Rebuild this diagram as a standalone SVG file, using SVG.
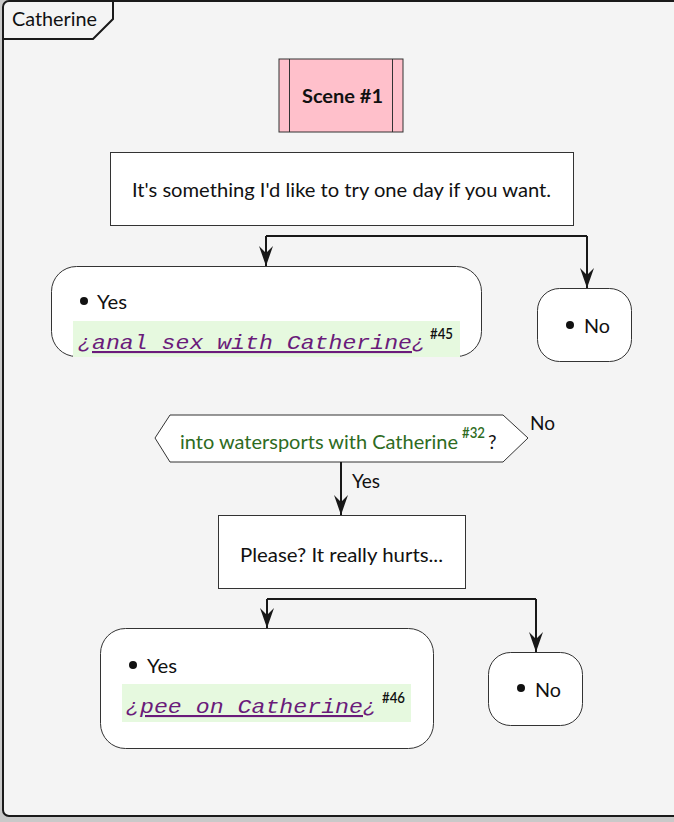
<svg xmlns="http://www.w3.org/2000/svg" width="674" height="822" viewBox="0 0 674 822">
<style>
.t{font-family:Lato,"Open Sans",sans-serif;font-size:19px;fill:#111}
.box{fill:#fff;stroke:#333;stroke-width:1}
.mono{font-family:"Liberation Mono",monospace;font-style:italic;font-size:21px;fill:#6a1b7a}
.sup{font-family:Lato,sans-serif;font-size:15px;font-weight:600;fill:#111}
.con{fill:none;stroke:#181818;stroke-width:2}
.hl{fill:#e6f9df}
</style>
<defs>
<marker id="ah" markerWidth="22" markerHeight="14" refX="20" refY="7" orient="auto" markerUnits="userSpaceOnUse" viewBox="0 0 22 14">
<path d="M0,0 L20,7 L0,14 L7,7 Z" fill="#181818"/>
</marker>
</defs>
<rect x="0" y="0" width="674" height="822" fill="#c9c9c9"/>
<g id="frame">
<rect x="3" y="1" width="690" height="815" rx="6" fill="#f4f4f4" stroke="#1a1a1a" stroke-width="2"/>
<path d="M3,39 L93,39 L113,19 L113,1" fill="none" stroke="#1a1a1a" stroke-width="2"/>
<text class="t" x="12" y="26" textLength="85" lengthAdjust="spacingAndGlyphs">Catherine</text>
</g>
<g id="scene">
<rect x="279" y="59" width="124" height="73" fill="#ffc0cb" stroke="#333"/>
<line x1="289.5" y1="59" x2="289.5" y2="132" stroke="#333"/>
<line x1="392.5" y1="59" x2="392.5" y2="132" stroke="#333"/>
<text class="t" x="302" y="103" font-weight="bold" textLength="81" lengthAdjust="spacingAndGlyphs">Scene #1</text>
</g>
<g id="q1">
<rect class="box" x="110.5" y="152.5" width="463" height="73"/>
<text class="t" x="132" y="197" textLength="419" lengthAdjust="spacingAndGlyphs">It's something I'd like to try one day if you want.</text>
</g>
<g id="yes1">
<rect class="box" x="51.5" y="266.5" width="430" height="90" rx="25"/>
<circle cx="84" cy="301" r="4" fill="#111"/>
<text class="t" x="97" y="309" textLength="30" lengthAdjust="spacingAndGlyphs">Yes</text>
<rect class="hl" x="73" y="321" width="387" height="36"/>
<text class="mono" x="78" y="349">¿</text>
<text class="mono" x="92" y="349" textLength="320" lengthAdjust="spacingAndGlyphs" text-decoration="underline">anal sex with Catherine</text>
<text class="mono" x="412" y="349">¿</text>
<text class="sup" x="430" y="339" textLength="23" lengthAdjust="spacingAndGlyphs">#45</text>
</g>
<g id="no1">
<rect class="box" x="537.5" y="288.5" width="94" height="73" rx="22"/>
<circle cx="570" cy="325" r="4" fill="#111"/>
<text class="t" x="584" y="333" textLength="26" lengthAdjust="spacingAndGlyphs">No</text>
</g>
<g id="cond">
<polygon points="155,438 170,415 503,415 528,438 503,462 170,462" fill="#fff" stroke="#333"/>
<text class="t" x="180" y="449" style="fill:#2e6b1e" textLength="278" lengthAdjust="spacingAndGlyphs">into watersports with Catherine</text>
<text class="sup" x="462" y="438" style="fill:#2e6b1e" textLength="23" lengthAdjust="spacingAndGlyphs">#32</text>
<text class="t" x="488" y="449">?</text>
<text class="t" x="530" y="430">No</text>
<text class="t" x="352" y="488">Yes</text>
</g>
<g id="q2">
<rect class="box" x="218.5" y="515.5" width="247" height="73"/>
<text class="t" x="240" y="562" textLength="203" lengthAdjust="spacingAndGlyphs">Please? It really hurts...</text>
</g>
<g id="yes2">
<rect class="box" x="100.5" y="628.5" width="333" height="120" rx="25"/>
<circle cx="133" cy="665" r="4" fill="#111"/>
<text class="t" x="147" y="673" textLength="30" lengthAdjust="spacingAndGlyphs">Yes</text>
<rect class="hl" x="122" y="684" width="289" height="38"/>
<text class="mono" x="126" y="713">¿</text>
<text class="mono" x="140" y="713" textLength="223" lengthAdjust="spacingAndGlyphs" text-decoration="underline">pee on Catherine</text>
<text class="mono" x="363" y="713">¿</text>
<text class="sup" x="382" y="703" textLength="23" lengthAdjust="spacingAndGlyphs">#46</text>
</g>
<g id="no2">
<rect class="box" x="488.5" y="652.5" width="94" height="73" rx="22"/>
<circle cx="521" cy="688" r="4" fill="#111"/>
<text class="t" x="535" y="697" textLength="26" lengthAdjust="spacingAndGlyphs">No</text>
</g>
<g id="connectors">
<path class="con" d="M266,236 L587,236"/>
<path class="con" d="M266,236 L266,266" marker-end="url(#ah)"/>
<path class="con" d="M587,236 L587,288" marker-end="url(#ah)"/>
<path class="con" d="M341,462 L341,515" marker-end="url(#ah)"/>
<path class="con" d="M267,599 L536,599"/>
<path class="con" d="M267,599 L267,628" marker-end="url(#ah)"/>
<path class="con" d="M536,599 L536,652" marker-end="url(#ah)"/>
</g>
</svg>
